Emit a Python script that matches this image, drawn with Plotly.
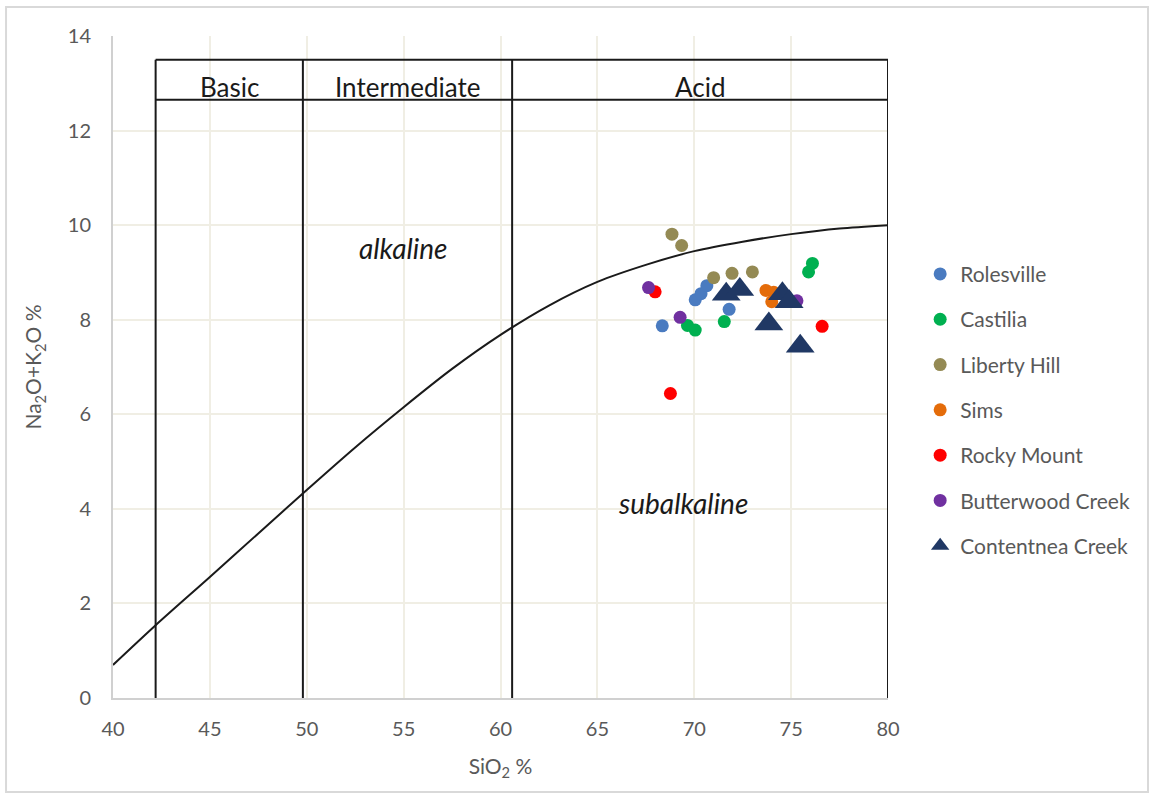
import plotly.graph_objects as go

# ---- data ----
rolesville_x = [68.35, 70.05, 70.35, 70.65, 71.8]
rolesville_y = [7.87, 8.42, 8.55, 8.72, 8.22]
castilia_x = [69.65, 70.05, 71.55, 75.9, 76.1]
castilia_y = [7.88, 7.78, 7.96, 9.01, 9.19]
liberty_x = [68.85, 69.35, 71.0, 71.95, 73.0]
liberty_y = [9.81, 9.57, 8.89, 8.98, 9.01]
sims_x = [73.7, 74.1, 74.0]
sims_y = [8.62, 8.58, 8.38]
rocky_x = [67.98, 68.77, 76.6]
rocky_y = [8.59, 6.44, 7.86]
butter_x = [67.64, 69.27, 75.3]
butter_y = [8.68, 8.05, 8.40]
content_x = [71.65, 72.35, 74.55, 74.9, 73.85, 75.47]
content_y = [8.54, 8.64, 8.55, 8.38, 7.91, 7.44]

# alkaline / subalkaline dividing curve
curve_x = [40, 42.2, 45, 47.5, 50, 52.5, 55, 57.5, 60, 62.5, 65, 67.5, 70, 72.5, 75, 77.5, 80]
curve_y = [0.70, 1.54, 2.56, 3.48, 4.40, 5.30, 6.15, 6.96, 7.68, 8.30, 8.80, 9.16, 9.45, 9.65, 9.81, 9.93, 10.0]

# field boundaries
boundary_x = [42.2, 49.8, 60.6, 80]
header_y = [12.65, 13.5]
header_labels = ["Basic", "Intermediate", "Acid"]

x_ticks = [40, 45, 50, 55, 60, 65, 70, 75, 80]
y_ticks = [0, 2, 4, 6, 8, 10, 12, 14]

FONT = "Lato"
GREY = "#595959"

series = [
    ("Rolesville", rolesville_x, rolesville_y, "#4A7BC0", "circle", 13),
    ("Castilia", castilia_x, castilia_y, "#00B050", "circle", 13),
    ("Liberty Hill", liberty_x, liberty_y, "#948A54", "circle", 13),
    ("Sims", sims_x, sims_y, "#E46C0A", "circle", 13),
    ("Rocky Mount", rocky_x, rocky_y, "#FF0000", "circle", 13),
    ("Butterwood Creek", butter_x, butter_y, "#7030A0", "circle", 13),
    ("Contentnea Creek", content_x, content_y, "#203864", "triangle-up", 25),
]

fig = go.Figure()

fig.add_trace(go.Scatter(
    x=curve_x, y=curve_y, mode="lines", line=dict(color="#1a1a1a", width=2, shape="spline", smoothing=0.8),
    showlegend=False, hoverinfo="skip"))

for name, xs, ys, col, sym, sz in series:
    fig.add_trace(go.Scatter(
        x=xs, y=ys, mode="markers", name=name, legendgroup=name,
        marker=dict(color=col, symbol=sym, size=sz, line=dict(width=0))))

shapes = []
top = header_y[1]
for bx in boundary_x:
    shapes.append(dict(type="line", xref="x", yref="y", x0=bx, x1=bx, y0=0, y1=top,
                       line=dict(color="#1a1a1a", width=2)))
for hy in header_y:
    shapes.append(dict(type="line", xref="x", yref="y", x0=boundary_x[0], x1=boundary_x[-1],
                       y0=hy, y1=hy, line=dict(color="#1a1a1a", width=2)))
# outer chart border
shapes.append(dict(type="rect", xref="paper", yref="paper", x0=-0.138, x1=1.3355, y0=-0.142, y1=1.0438,
                   line=dict(color="#D9D9D9", width=2), layer="below"))

annotations = []
for i, lab in enumerate(header_labels):
    cx = (boundary_x[i] + boundary_x[i + 1]) / 2
    annotations.append(dict(x=cx, y=12.92, xref="x", yref="y", text=lab,
                            showarrow=False, font=dict(family=FONT, size=26, color="#1a1a1a")))
annotations.append(dict(x=55.0, y=9.52, xref="x", yref="y", text="<i>alkaline</i>", showarrow=False,
                        font=dict(family=FONT, size=28, color="#1a1a1a")))
annotations.append(dict(x=69.4, y=4.12, xref="x", yref="y", text="<i>subalkaline</i>", showarrow=False,
                        font=dict(family=FONT, size=28, color="#1a1a1a")))

fig.update_layout(
    width=1154, height=797,
    margin=dict(l=113, r=266, t=36, b=99),
    paper_bgcolor="white", plot_bgcolor="white",
    font=dict(family=FONT, size=20, color=GREY),
    shapes=shapes, annotations=annotations,
    legend=dict(x=1.0415, y=0.671, xanchor="left", yanchor="top",
                font=dict(family=FONT, size=21, color=GREY),
                tracegroupgap=15, itemwidth=30, bgcolor="rgba(0,0,0,0)"),
    xaxis=dict(range=[40, 80], tickvals=x_ticks, showgrid=True, gridcolor="#F0EEE4", gridwidth=1.5,
               zeroline=False, showline=True, linecolor="#D0D0D0", linewidth=2,
               ticks="", ticklabelstandoff=12,
               tickfont=dict(family=FONT, size=20, color=GREY),
               title=dict(text="SiO<sub>2</sub> %", font=dict(family=FONT, size=21, color=GREY), standoff=20)),
    yaxis=dict(range=[0, 14], tickvals=y_ticks, showgrid=True, gridcolor="#F0EEE4", gridwidth=1.5,
               zeroline=False, showline=True, linecolor="#D0D0D0", linewidth=2,
               ticks="", ticklabelstandoff=16,
               tickfont=dict(family=FONT, size=20, color=GREY),
               title=dict(text="Na<sub>2</sub>O+K<sub>2</sub>O %", font=dict(family=FONT, size=21, color=GREY), standoff=20)),
)

fig.write_html("out.html")
